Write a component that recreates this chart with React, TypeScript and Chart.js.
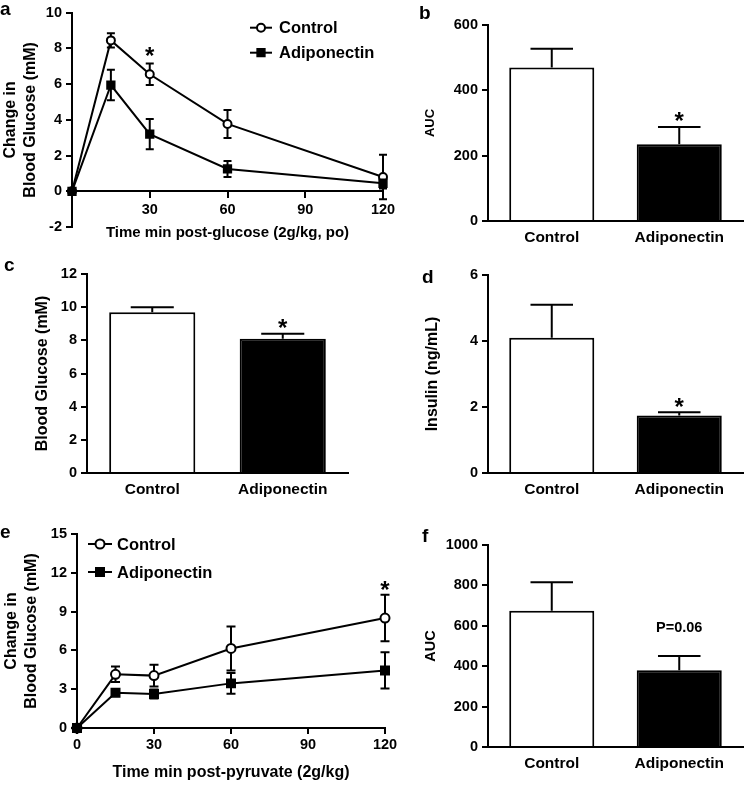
import React, { useEffect, useRef } from 'react';
import { Chart, registerables } from 'chart.js';

Chart.register(...registerables);

const FONT = "'Liberation Sans', Arial, Helvetica, sans-serif";
Chart.defaults.font.family = FONT;
Chart.defaults.color = '#000';

// ---------- Panel a: oral glucose tolerance ----------
const glucoseTimes = [0, 15, 30, 60, 120];
const glucoseControl = [0, 8.45, 6.55, 3.77, 0.8];
const glucoseControlErr = [0, 0.4, 0.6, 0.78, 1.25];
const glucoseControlMarks = ['', '', '*', '', ''];
const glucoseAdipo = [0, 5.95, 3.2, 1.25, 0.45];
const glucoseAdipoErr = [0, 0.85, 0.85, 0.45, 0.3];

// ---------- Bar panels ----------
const groups = ['Control', 'Adiponectin'];
// b
const aucGlucose = [470, 235];
const aucGlucoseErr = [57, 53];
const aucGlucoseMarks = ['', '*'];
// c
const fastingGlucose = [9.7, 8.1];
const fastingGlucoseErr = [0.3, 0.3];
const fastingGlucoseMarks = ['', '*'];
// d
const insulin = [4.1, 1.74];
const insulinErr = [1.0, 0.1];
const insulinMarks = ['', '*'];
// f
const aucPyruvate = [675, 380];
const aucPyruvateErr = [140, 70];
const aucPyruvateMarks = ['', 'P=0.06'];

// ---------- Panel e: pyruvate tolerance ----------
const pyruvateTimes = [0, 15, 30, 60, 120];
const pyruvateControl = [0, 4.15, 4.05, 6.15, 8.5];
const pyruvateControlErr = [0, 0.6, 0.85, 1.7, 1.8];
const pyruvateControlMarks = ['', '', '', '', '*'];
const pyruvateAdipo = [0, 2.73, 2.63, 3.45, 4.45];
const pyruvateAdipoErr = [0, 0.2, 0.35, 0.8, 1.4];

const tickFont = { family: FONT, size: 14.5, weight: 'bold' as const };
const plainTick = (v: number) => String(v);

function valueOf(raw: any): number {
  return typeof raw === 'number' ? raw : raw.y;
}

function drawErrors(chart: any, opts: any) {
  const { ctx } = chart;
  const ys = chart.scales.y;
  chart.data.datasets.forEach((ds: any, di: number) => {
    if (!ds.errors) return;
    const meta = chart.getDatasetMeta(di);
    meta.data.forEach((el: any, i: number) => {
      const e = ds.errors[i];
      if (!e) return;
      const v = valueOf(ds.data[i]);
      const x = el.x;
      const top = ys.getPixelForValue(v + e);
      const bottom = opts.mode === 'up' ? ys.getPixelForValue(v) : ys.getPixelForValue(v - e);
      const cap = opts.capWidth ? opts.capWidth : el.width * opts.capRatio;
      ctx.save();
      ctx.strokeStyle = '#000';
      ctx.lineWidth = 2;
      ctx.beginPath();
      ctx.moveTo(x, top);
      ctx.lineTo(x, bottom);
      ctx.moveTo(x - cap / 2, top);
      ctx.lineTo(x + cap / 2, top);
      if (opts.mode !== 'up') {
        ctx.moveTo(x - cap / 2, bottom);
        ctx.lineTo(x + cap / 2, bottom);
      }
      ctx.stroke();
      ctx.restore();
    });
  });
}

const errorBarPlugin = {
  id: 'errorBars',
  beforeDatasetsDraw(chart: any, _a: any, opts: any) {
    if (opts.mode === 'both') drawErrors(chart, opts);
  },
  afterDatasetsDraw(chart: any, _a: any, opts: any) {
    if (opts.mode === 'up') drawErrors(chart, opts);
  },
};

const marksPlugin = {
  id: 'marks',
  afterDatasetsDraw(chart: any, _a: any, opts: any) {
    const { ctx } = chart;
    const ys = chart.scales.y;
    chart.data.datasets.forEach((ds: any, di: number) => {
      if (!ds.marks) return;
      const meta = chart.getDatasetMeta(di);
      ds.marks.forEach((m: string, i: number) => {
        if (!m) return;
        const el = meta.data[i];
        const v = valueOf(ds.data[i]);
        const top = ys.getPixelForValue(v + ((ds.errors && ds.errors[i]) || 0));
        ctx.save();
        ctx.fillStyle = '#000';
        ctx.textAlign = 'center';
        if (m === '*') {
          ctx.font = `bold ${opts.starSize}px ${FONT}`;
          ctx.textBaseline = 'alphabetic';
          ctx.fillText(m, el.x, top - opts.starGap + 0.56 * opts.starSize);
        } else {
          ctx.font = `bold ${opts.textSize}px ${FONT}`;
          ctx.textBaseline = 'middle';
          ctx.fillText(m, el.x, top - opts.textGap);
        }
        ctx.restore();
      });
    });
  },
};

const lineLegendPlugin = {
  id: 'lineLegend',
  afterDraw(chart: any, _a: any, opts: any) {
    if (opts.dx === undefined) return;
    const { ctx, chartArea } = chart;
    chart.data.datasets.forEach((ds: any, i: number) => {
      const y = chartArea.top + opts.dy + i * opts.rowGap;
      const x0 = chartArea.left + opts.dx;
      const xm = x0 + opts.lineLen / 2;
      ctx.save();
      ctx.strokeStyle = '#000';
      ctx.lineWidth = 2;
      ctx.beginPath();
      ctx.moveTo(x0, y);
      ctx.lineTo(x0 + opts.lineLen, y);
      ctx.stroke();
      ctx.fillStyle = ds.pointBackgroundColor;
      ctx.lineWidth = ds.pointBorderWidth;
      if (ds.pointStyle === 'rect') {
        const s = Math.SQRT1_2 * ds.pointRadius;
        ctx.beginPath();
        ctx.rect(xm - s, y - s, 2 * s, 2 * s);
        ctx.fill();
        ctx.stroke();
      } else {
        ctx.beginPath();
        ctx.arc(xm, y, ds.pointRadius, 0, Math.PI * 2);
        ctx.fill();
        ctx.stroke();
      }
      ctx.fillStyle = '#000';
      ctx.font = `bold ${opts.fontSize}px ${FONT}`;
      ctx.textAlign = 'left';
      ctx.textBaseline = 'middle';
      ctx.fillText(ds.label, x0 + opts.lineLen + opts.textGap, y + 1);
      ctx.restore();
    });
  },
};

const plugins = [errorBarPlugin, marksPlugin, lineLegendPlugin];

function yAxis(o: { min: number; max: number; step: number; title: string | string[]; titleSize: number; titlePad: number; width: number }) {
  return {
    type: 'linear',
    min: o.min,
    max: o.max,
    ticks: { stepSize: o.step, font: tickFont, color: '#000', padding: 4, callback: plainTick },
    grid: { display: true, drawOnChartArea: false, drawTicks: true, tickLength: 6, color: '#000', lineWidth: 2 },
    border: { display: true, color: '#000', width: 2 },
    title: {
      display: true,
      text: o.title,
      color: '#000',
      font: { family: FONT, size: o.titleSize, weight: 'bold', lineHeight: 1.25 },
      padding: { top: o.titlePad, bottom: 0 },
    },
    afterFit: (s: any) => {
      s.width = o.width;
    },
  };
}

function barX(height: number) {
  return {
    type: 'category',
    offset: true,
    grid: { display: false, drawTicks: false },
    border: { display: true, color: '#000', width: 2 },
    ticks: { font: { family: FONT, size: 15.5, weight: 'bold' }, color: '#000', padding: 7 },
    afterFit: (s: any) => {
      s.height = height;
    },
  };
}

function lineDatasets(times: number[], c: number[], cErr: number[], cMarks: string[], a: number[], aErr: number[], r: number) {
  return [
    {
      label: 'Control',
      data: times.map((t, i) => ({ x: t, y: c[i] })),
      errors: cErr,
      marks: cMarks,
      borderColor: '#000',
      borderWidth: 2,
      pointStyle: 'circle',
      pointRadius: r,
      pointBackgroundColor: '#fff',
      pointBorderColor: '#000',
      pointBorderWidth: 2,
      tension: 0,
      clip: false,
      order: 1,
    },
    {
      label: 'Adiponectin',
      data: times.map((t, i) => ({ x: t, y: a[i] })),
      errors: aErr,
      borderColor: '#000',
      borderWidth: 2,
      pointStyle: 'rect',
      pointRadius: r + 1.5,
      pointBackgroundColor: '#000',
      pointBorderColor: '#000',
      pointBorderWidth: 1.5,
      tension: 0,
      clip: false,
      order: 0,
    },
  ];
}

function barDataset(values: number[], errs: number[], marks: string[]) {
  return [
    {
      data: values,
      errors: errs,
      marks,
      backgroundColor: ['#fff', '#000'],
      borderColor: '#000',
      borderWidth: 2,
      barPercentage: 1,
      categoryPercentage: 0.667,
    },
  ];
}

const panelA = () => ({
  type: 'line',
  data: { datasets: lineDatasets(glucoseTimes, glucoseControl, glucoseControlErr, glucoseControlMarks, glucoseAdipo, glucoseAdipoErr, 4) },
  options: {
    responsive: false,
    animation: false,
    layout: { padding: { left: 0, top: 10, right: 17, bottom: 18 } },
    plugins: {
      legend: { display: false },
      tooltip: { enabled: false },
      errorBars: { mode: 'both', capWidth: 8 },
      marks: { starSize: 24, starGap: 13 },
      lineLegend: { dx: 178, dy: 15, rowGap: 25, lineLen: 22, textGap: 7, fontSize: 16.5 },
    },
    scales: {
      x: {
        type: 'linear',
        min: 0,
        max: 120,
        position: { y: 0 },
        ticks: { stepSize: 30, font: tickFont, color: '#000', padding: 4, callback: (v: number) => (v === 0 ? '' : String(v)) },
        grid: { display: true, drawOnChartArea: false, drawTicks: true, tickLength: 6, color: '#000', lineWidth: 2 },
        border: { display: true, color: '#000', width: 2 },
        title: {
          display: true,
          text: 'Time min post-glucose (2g/kg, po)',
          color: '#000',
          font: { family: FONT, size: 15, weight: 'bold', lineHeight: 1.2 },
          padding: { top: 0, bottom: 0 },
        },
        afterFit: (s: any) => {
          s.height = 50.7;
        },
      },
      y: yAxis({ min: -2, max: 10, step: 2, title: ['Change in', 'Blood Glucose (mM)'], titleSize: 16, titlePad: 1, width: 72 }),
    },
  },
  plugins,
});

const panelE = () => ({
  type: 'line',
  data: { datasets: lineDatasets(pyruvateTimes, pyruvateControl, pyruvateControlErr, pyruvateControlMarks, pyruvateAdipo, pyruvateAdipoErr, 4.5) },
  options: {
    responsive: false,
    animation: false,
    layout: { padding: { left: 0, top: 14, right: 15, bottom: 0 } },
    plugins: {
      legend: { display: false },
      tooltip: { enabled: false },
      errorBars: { mode: 'both', capWidth: 9 },
      marks: { starSize: 24, starGap: 10 },
      lineLegend: { dx: 11, dy: 10, rowGap: 28, lineLen: 24, textGap: 5, fontSize: 16.5 },
    },
    scales: {
      x: {
        type: 'linear',
        min: 0,
        max: 120,
        position: 'bottom',
        ticks: { stepSize: 30, font: tickFont, color: '#000', padding: 2, callback: plainTick },
        grid: { display: true, drawOnChartArea: false, drawTicks: true, tickLength: 6, color: '#000', lineWidth: 2 },
        border: { display: true, color: '#000', width: 2 },
        title: {
          display: true,
          text: 'Time min post-pyruvate (2g/kg)',
          color: '#000',
          font: { family: FONT, size: 16, weight: 'bold', lineHeight: 1.2 },
          padding: { top: 0, bottom: 2.4 },
        },
        afterFit: (s: any) => {
          s.height = 57;
        },
      },
      y: yAxis({ min: 0, max: 15, step: 3, title: ['Change in', 'Blood Glucose (mM)'], titleSize: 16, titlePad: 2, width: 77 }),
    },
  },
  plugins,
});

function barPanel(o: {
  values: number[];
  errs: number[];
  marks: string[];
  min: number;
  max: number;
  step: number;
  title: string;
  titleSize: number;
  titlePad: number;
  yWidth: number;
  top: number;
  right: number;
  xHeight: number;
  catPct?: number;
}) {
  const ds = barDataset(o.values, o.errs, o.marks);
  if (o.catPct) ds[0].categoryPercentage = o.catPct;
  return () => ({
    type: 'bar',
    data: { labels: groups, datasets: ds },
    options: {
      responsive: false,
      animation: false,
      layout: { padding: { left: 0, top: o.top, right: o.right, bottom: 0 } },
      plugins: {
        legend: { display: false },
        tooltip: { enabled: false },
        errorBars: { mode: 'up', capRatio: 0.5 },
        marks: { starSize: 24, starGap: 11, textSize: 14.5, textGap: 28 },
      },
      scales: {
        x: barX(o.xHeight),
        y: yAxis({ min: o.min, max: o.max, step: o.step, title: o.title, titleSize: o.titleSize, titlePad: o.titlePad, width: o.yWidth }),
      },
    },
    plugins,
  });
}

const panelB = barPanel({ values: aucGlucose, errs: aucGlucoseErr, marks: aucGlucoseMarks, min: 0, max: 600, step: 200, title: 'AUC', titleSize: 13, titlePad: 42, yWidth: 108, top: 25, right: 3, xHeight: 29 });
const panelC = barPanel({ values: fastingGlucose, errs: fastingGlucoseErr, marks: fastingGlucoseMarks, min: 0, max: 12, step: 2, title: 'Blood Glucose (mM)', titleSize: 16, titlePad: 33, yWidth: 87, top: 24, right: 32, xHeight: 37, catPct: 0.66 });
const panelD = barPanel({ values: insulin, errs: insulinErr, marks: insulinMarks, min: 0, max: 6, step: 2, title: 'Insulin (ng/mL)', titleSize: 16, titlePad: 43, yWidth: 108, top: 25, right: 3, xHeight: 37 });
const panelF = barPanel({ values: aucPyruvate, errs: aucPyruvateErr, marks: aucPyruvateMarks, min: 0, max: 1000, step: 200, title: 'AUC', titleSize: 14.5, titlePad: 42, yWidth: 108, top: 25, right: 3, xHeight: 38 });

function ChartBox({ left, top, width, height, config }: { left: number; top: number; width: number; height: number; config: () => any }) {
  const ref = useRef<HTMLCanvasElement>(null);
  useEffect(() => {
    const chart = new Chart(ref.current as HTMLCanvasElement, config());
    return () => chart.destroy();
  }, []);
  return (
    <div style={{ position: 'absolute', left, top, width, height }}>
      <canvas ref={ref} width={width} height={height} style={{ width, height, display: 'block' }} />
    </div>
  );
}

const letterBase: React.CSSProperties = {
  position: 'absolute',
  fontFamily: FONT,
  fontWeight: 'bold',
  fontSize: 19,
  lineHeight: '19px',
  color: '#000',
};

export default function App() {
  return (
    <div style={{ position: 'absolute', left: 0, top: 0, width: 746, height: 785, background: '#fff', overflow: 'hidden' }}>
      <ChartBox left={0} top={0} width={400} height={245} config={panelA} />
      <ChartBox left={380} top={0} width={366} height={250} config={panelB} />
      <ChartBox left={0} top={250} width={380} height={260} config={panelC} />
      <ChartBox left={380} top={250} width={366} height={260} config={panelD} />
      <ChartBox left={0} top={520} width={400} height={265} config={panelE} />
      <ChartBox left={380} top={520} width={366} height={265} config={panelF} />
      <span style={{ ...letterBase, left: 0, top: -1.2 }}>a</span>
      <span style={{ ...letterBase, left: 419, top: 2.5 }}>b</span>
      <span style={{ ...letterBase, left: 4, top: 254.8 }}>c</span>
      <span style={{ ...letterBase, left: 422, top: 266.5 }}>d</span>
      <span style={{ ...letterBase, left: 0, top: 521.8 }}>e</span>
      <span style={{ ...letterBase, left: 422, top: 525.8 }}>f</span>
    </div>
  );
}
